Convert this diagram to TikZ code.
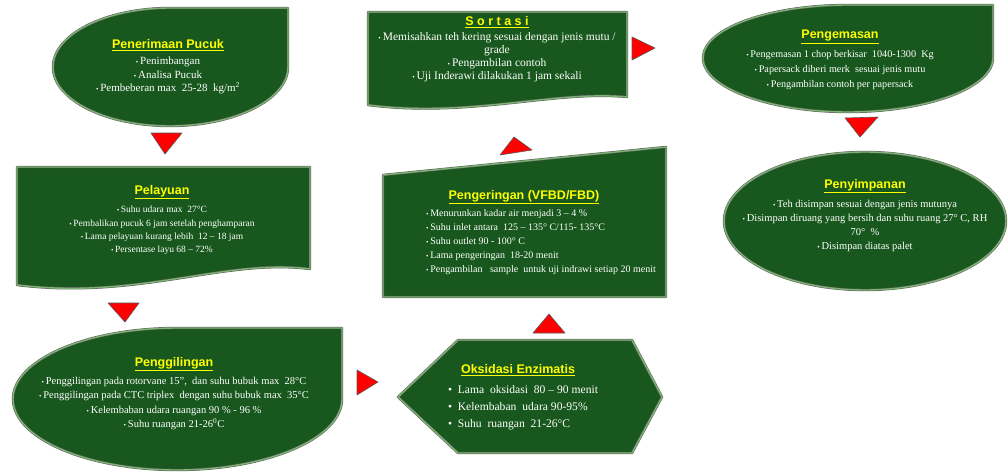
\documentclass[tikz,border=0pt]{standalone}
\usepackage{fontspec}
\setmainfont{Liberation Serif}
\setsansfont{Liberation Sans}
\usetikzlibrary{positioning}

\definecolor{daun}{RGB}{24,88,30}
\definecolor{tepi}{RGB}{125,180,115}
\definecolor{kuning}{RGB}{255,255,0}
\newcommand{\judul}[1]{{\sffamily\bfseries\fontsize{12.5}{14}\selectfont\color{kuning}\underline{#1}}}
\newcommand{\bt}{{\scriptsize\textbullet}\,}
\newcommand{\btb}{\textbullet\enspace}

\tikzset{
    kotak/.style={fill=daun, draw=gray!70!black, double=tepi, double distance=1.4pt, line width=0.5pt, line join=round},
    segitiga/.style={fill=red, draw=black!65, line width=0.6pt, line join=round},
    isi/.style={text=white, align=center, inner sep=0pt, font=\fontsize{9.5}{13.5}\selectfont},
    kepala/.style={inner sep=0pt}
}

\begin{document}
\begin{tikzpicture}[x=1pt, y=-1pt]
    \useasboundingbox (0,0) rectangle (1008,472);
    % Shapes
    \draw[kotak] (288,8) -- (288,67) .. controls (288,99.6) and (234.6,126) .. (170,126) .. controls (105.4,126) and (53,99.6) .. (53,67) .. controls (53,34.4) and (105.4,8) .. (170,8) -- cycle;
    \draw[kotak] (17,167) -- (310,167) -- (310,269) .. controls (225,258) and (140,300) .. (17,285) -- cycle;
    \draw[kotak] (342,328) -- (342,399) .. controls (342,438.2) and (267.5,470) .. (177,470) .. controls (86.5,470) and (13,438.2) .. (13,399) .. controls (13,359.8) and (86.5,328) .. (177,328) -- cycle;
    \draw[kotak] (398,397) -- (458,340) -- (632,340) -- (662,397) -- (632,453) -- (458,453) -- cycle;
    \draw[kotak] (383,175) -- (666,147) -- (666,297) -- (383,297) -- cycle;
    \draw[kotak] (368,12) -- (627,12) -- (627,97) .. controls (555,90) and (470,118) .. (368,105) -- cycle;
    \draw[kotak] (993,5) -- (993,58) .. controls (993,87.3) and (928,112) .. (848,112) .. controls (768,112) and (703,87.3) .. (703,58) .. controls (703,28.7) and (768,5) .. (848,5) -- cycle;
    \draw[kotak] (865,221) ellipse [x radius=141pt, y radius=69pt];

    % Texts
    \node[kepala] (t1) at (168,45) {\judul{Penerimaan Pucuk}};
    \node[isi, font=\fontsize{11}{13.5}\selectfont, below=6pt of t1] (b1) {\bt Penimbangan\\ \bt Analisa Pucuk\\ \bt Pembeberan max~~25-28~~kg/m\textsuperscript{2}};

    \node[kepala] (t2) at (162,192) {\judul{Pelayuan}};
    \node[isi, font=\fontsize{9.5}{13.3}\selectfont, below=7pt of t2] (b2) {\bt Suhu udara max~~27°C\\ \bt Pembalikan pucuk 6 jam setelah penghamparan\\ \bt Lama pelayuan kurang lebih~~12 -- 18 jam\\ \bt Persentase layu 68 -- 72\%};

    \node[kepala] (t3) at (174,364) {\judul{Penggilingan}};
    \node[isi, font=\fontsize{10.5}{14.3}\selectfont, below=6pt of t3] (b3) {\bt Penggilingan pada rotorvane 15'',~~dan suhu bubuk max~~28°C\\ \bt Penggilingan pada CTC triplex~~dengan suhu bubuk max~~35°C\\ \bt Kelembaban udara ruangan 90 \% - 96 \%\\ \bt Suhu ruangan 21-26\textsuperscript{0}C};

    \node[kepala] (t6) at (518,370) {\judul{Oksidasi Enzimatis}};
    \node[isi, align=left, font=\fontsize{11.6}{17}\selectfont, below=9pt of t6, xshift=5pt] (b6) {\btb Lama~ oksidasi~ 80 -- 90 menit\\ \btb Kelembaban~ udara 90-95\%\\ \btb Suhu~ ruangan~ 21-26°C};

    \node[kepala] (t5) at (524,197) {\judul{Pengeringan (VFBD/FBD)}};
    \node[isi, align=left, font=\fontsize{10}{14.2}\selectfont, below=5pt of t5, xshift=17pt] (b5) {\bt Menurunkan kadar air menjadi 3 -- 4 \%\\ \bt Suhu inlet antara~~125 -- 135° C/115- 135°C\\ \bt Suhu outlet 90 - 100° C\\ \bt Lama pengeringan~~18-20 menit\\ \bt Pengambilan~~~sample~~untuk uji indrawi setiap 20 menit};

    \node[kepala] (t4) at (497,22) {\judul{S o r t a s i}};
    \node[isi, font=\fontsize{11.5}{13}\selectfont, below=5pt of t4] (b4) {\bt Memisahkan teh kering sesuai dengan jenis mutu /\\ grade\\ \bt Pengambilan contoh\\ \bt Uji Inderawi dilakukan 1 jam sekali};

    \node[kepala] (t7) at (840,37) {\judul{Pengemasan}};
    \node[isi, font=\fontsize{10.2}{15}\selectfont, below=6pt of t7] (b7) {\bt Pengemasan 1 chop berkisar~~1040-1300~~Kg\\ \bt Papersack diberi merk~~sesuai jenis mutu\\ \bt Pengambilan contoh per papersack};

    \node[kepala] (t8) at (865,186) {\judul{Penyimpanan}};
    \node[isi, font=\fontsize{10.5}{14}\selectfont, below=7pt of t8] (b8) {\bt Teh disimpan sesuai dengan jenis mutunya\\ \bt Disimpan diruang yang bersih dan suhu ruang 27°~C, RH\\ 70°~~\%\\ \bt Disimpan diatas palet};

    % Arrows
    \foreach \ax/\ay/\bx/\by/\cx/\cy in {151/133/182/133/165/154, 108/303/139/303/125/322, 357/370/357/395/378/382, 533/333/565/333/549/314, 500/155/532/150/514/137, 632/37/632/60/655/48, 845/118/878/117/860/137} {
            \draw[segitiga] (\ax,\ay) -- (\bx,\by) -- (\cx,\cy) -- cycle;
        }
\end{tikzpicture}
\end{document}
